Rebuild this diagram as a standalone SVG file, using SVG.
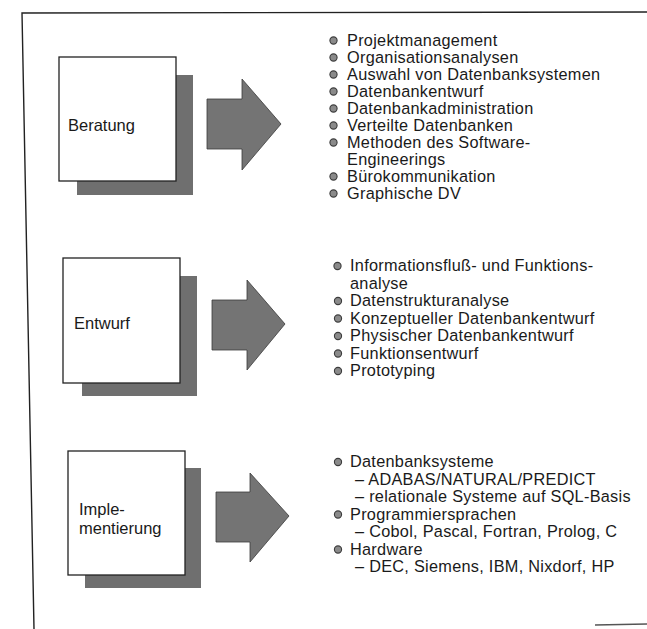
<svg xmlns="http://www.w3.org/2000/svg" width="647" height="629" viewBox="0 0 647 629">
<defs>
<style>
.frame{fill:none;stroke:#222;stroke-width:1.4}
.box{fill:#fff;stroke:#222;stroke-width:1.3}
.shadow{fill:#6f6f6f}
.arrow{fill:#747474;stroke:#3a3a3a;stroke-width:0.8}
.lbl{font-family:"Liberation Sans",Arial,sans-serif;font-size:16.5px;fill:#1a1a1a}
.it{font-family:"Liberation Sans",Arial,sans-serif;font-size:16.3px;letter-spacing:0.28px;fill:#1a1a1a}
.bul{fill:#8a8a8a;stroke:#3c3c3c;stroke-width:1.1}
</style>
</defs>
<rect width="647" height="629" fill="#fff"/>
<path class="frame" d="M34,629 L22,13 L647,12"/>
<path d="M595,625 L647,624" stroke="#555" stroke-width="1.3" fill="none"/>

<g id="beratung">
<rect class="shadow" x="77" y="75" width="116" height="120"/>
<rect class="box" x="59" y="57" width="117" height="124"/>
<text class="lbl" x="68" y="131">Beratung</text>
</g>
<g id="entwurf">
<rect class="shadow" x="82" y="276" width="115" height="120"/>
<rect class="box" x="63" y="258" width="117" height="125"/>
<text class="lbl" x="74" y="329">Entwurf</text>
</g>
<g id="implementierung">
<rect class="shadow" x="85" y="468" width="116" height="120"/>
<rect class="box" x="68" y="451" width="117" height="124"/>
<text class="lbl" x="79" y="515">Imple-</text>
<text class="lbl" x="79" y="534">mentierung</text>
</g>

<g id="connectors">
<polygon class="arrow" points="207,99 242,99 242,79 281,124 242,170 242,149 207,149"/>
<polygon class="arrow" points="212,300 247,300 247,280 285,324 247,370 247,350 212,350"/>
<polygon class="arrow" points="216,492 250,492 250,473 289,516 250,562 250,542 216,542"/>
</g>

<g id="liste-beratung">
<circle class="bul" cx="333.5" cy="40.5" r="3.6"/><text class="it" x="347" y="45.5">Projektmanagement</text>
<circle class="bul" cx="333.5" cy="57.5" r="3.6"/><text class="it" x="347" y="62.5">Organisationsanalysen</text>
<circle class="bul" cx="333.5" cy="74.5" r="3.6"/><text class="it" x="347" y="79.5">Auswahl von Datenbanksystemen</text>
<circle class="bul" cx="333.5" cy="91.5" r="3.6"/><text class="it" x="347" y="96.5">Datenbankentwurf</text>
<circle class="bul" cx="333.5" cy="108.5" r="3.6"/><text class="it" x="347" y="113.5">Datenbankadministration</text>
<circle class="bul" cx="333.5" cy="125.5" r="3.6"/><text class="it" x="347" y="130.5">Verteilte Datenbanken</text>
<circle class="bul" cx="333.5" cy="142.5" r="3.6"/><text class="it" x="347" y="147.5">Methoden des Software-</text>
<text class="it" x="347" y="164.5">Engineerings</text>
<circle class="bul" cx="333.5" cy="176.5" r="3.6"/><text class="it" x="347" y="181.5">Bürokommunikation</text>
<circle class="bul" cx="333.5" cy="193.5" r="3.6"/><text class="it" x="347" y="198.5">Graphische DV</text>
</g>

<g id="liste-entwurf">
<circle class="bul" cx="337.5" cy="266" r="3.6"/><text class="it" x="350" y="271">Informationsfluß- und Funktions-</text>
<text class="it" x="350" y="288.5">analyse</text>
<circle class="bul" cx="338" cy="301" r="3.6"/><text class="it" x="350" y="306">Datenstrukturanalyse</text>
<circle class="bul" cx="338" cy="318.5" r="3.6"/><text class="it" x="350" y="323.5">Konzeptueller Datenbankentwurf</text>
<circle class="bul" cx="338" cy="336" r="3.6"/><text class="it" x="350" y="341">Physischer Datenbankentwurf</text>
<circle class="bul" cx="338" cy="353.5" r="3.6"/><text class="it" x="350" y="358.5">Funktionsentwurf</text>
<circle class="bul" cx="338" cy="371" r="3.6"/><text class="it" x="350" y="376">Prototyping</text>
</g>

<g id="liste-implementierung">
<circle class="bul" cx="338" cy="462" r="3.6"/><text class="it" x="350" y="467">Datenbanksysteme</text>
<text class="it" x="355" y="484.5">– ADABAS/NATURAL/PREDICT</text>
<text class="it" x="355" y="502">– relationale Systeme auf SQL-Basis</text>
<circle class="bul" cx="338" cy="514.5" r="3.6"/><text class="it" x="350" y="519.5">Programmiersprachen</text>
<text class="it" x="355" y="537">– Cobol, Pascal, Fortran, Prolog, C</text>
<circle class="bul" cx="338" cy="549.5" r="3.6"/><text class="it" x="350" y="554.5">Hardware</text>
<text class="it" x="355" y="572">– DEC, Siemens, IBM, Nixdorf, HP</text>
</g>
</svg>
